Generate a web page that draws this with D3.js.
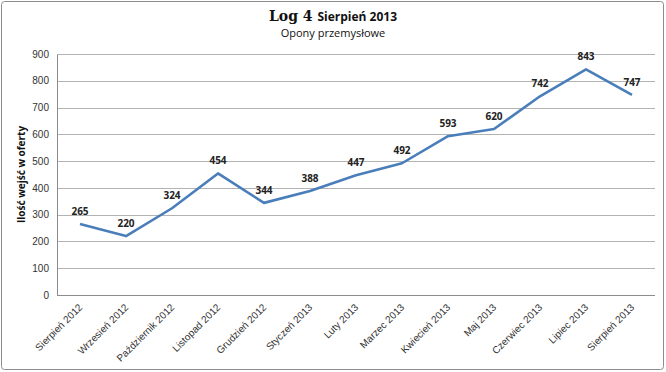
<!DOCTYPE html>
<html>
<head>
  <meta charset="utf-8">
  <title>Log 4 Sierpień 2013</title>
  <script src="https://d3js.org/d3.v7.min.js"></script>
  <style>
    body {
      margin: 0;
      background-color: #fff;
      font-family: "Open Sans", Arial, sans-serif;
    }
    .grid line {
      stroke: #b3b3b3;
      shape-rendering: crispEdges;
    }
    .axis text {
      font-size: 10px;
      fill: #333;
    }
    .axis path,
    .axis line {
      stroke: #8c8c8c;
      shape-rendering: crispEdges;
    }
  </style>
</head>
<body>
  <div id="chart"></div>

  <script>
    // data
    const months = ["Sierpień 2012", "Wrzesień 2012", "Październik 2012", "Listopad 2012",
      "Grudzień 2012", "Styczeń 2013", "Luty 2013", "Marzec 2013", "Kwiecień 2013",
      "Maj 2013", "Czerwiec 2013", "Lipiec 2013", "Sierpień 2013"];
    const visits = [265, 220, 324, 454, 344, 388, 447, 492, 593, 620, 742, 843, 747];
    const yTicks = [0, 100, 200, 300, 400, 500, 600, 700, 800, 900];

    const width = 666;
    const height = 372;
    const margin = { top: 54, right: 11, bottom: 77, left: 57 };

    const svg = d3.select("#chart")
      .append("svg")
      .attr("width", width)
      .attr("height", height);

    // outer frame
    svg.append("rect")
      .attr("x", 1.5).attr("y", 1.5)
      .attr("width", width - 4).attr("height", height - 4)
      .attr("rx", 3)
      .attr("fill", "#fff")
      .attr("stroke", "#8c8c8c");

    const x = d3.scaleBand()
      .domain(months)
      .range([margin.left, width - margin.right]);

    const y = d3.scaleLinear()
      .domain([0, 900])
      .range([height - margin.bottom, margin.top]);

    // gridlines
    svg.append("g")
      .attr("class", "grid")
      .selectAll("line")
      .data(yTicks.filter(d => d > 0))
      .join("line")
      .attr("x1", margin.left)
      .attr("x2", width - margin.right)
      .attr("y1", d => Math.round(y(d)) + 0.5)
      .attr("y2", d => Math.round(y(d)) + 0.5);

    // y axis
    const yAxis = svg.append("g")
      .attr("class", "axis")
      .attr("transform", `translate(${margin.left},0)`)
      .call(d3.axisLeft(y).tickValues(yTicks).tickSize(0).tickPadding(8));
    yAxis.selectAll("text").attr("font-size", 10);

    // x axis
    const xAxis = svg.append("g")
      .attr("class", "axis")
      .attr("transform", `translate(0,${height - margin.bottom})`)
      .call(d3.axisBottom(x).tickSize(0).tickPadding(0));
    xAxis.select(".domain").remove();
    xAxis.append("line")
      .attr("x1", margin.left).attr("x2", width - margin.right)
      .attr("stroke", "#8c8c8c")
      .attr("shape-rendering", "crispEdges");
    xAxis.selectAll(".tick text")
      .attr("dy", 0)
      .attr("transform", "translate(3,13) rotate(-45)")
      .style("text-anchor", "end")
      .attr("font-size", 9.5);

    // line
    const line = d3.line()
      .x((d, i) => x(months[i]) + x.bandwidth() / 2)
      .y(d => y(d));

    svg.append("path")
      .datum(visits)
      .attr("fill", "none")
      .attr("stroke", "#4a7ebb")
      .attr("stroke-width", 2.6)
      .attr("stroke-linejoin", "round")
      .attr("d", line);

    // data labels
    svg.append("g")
      .selectAll("text")
      .data(visits)
      .join("text")
      .attr("x", (d, i) => x(months[i]) + x.bandwidth() / 2)
      .attr("y", d => y(d) - 9)
      .attr("text-anchor", "middle")
      .attr("font-size", 10)
      .attr("font-weight", "bold")
      .attr("fill", "#222")
      .text(d => d);

    // title
    const title = svg.append("text")
      .attr("x", width / 2)
      .attr("y", 21)
      .attr("text-anchor", "middle")
      .attr("font-weight", "bold")
      .attr("fill", "#111");
    title.append("tspan")
      .attr("font-family", "'DejaVu Serif', serif")
      .attr("font-size", 14)
      .text("Log 4 ");
    title.append("tspan")
      .attr("font-size", 12)
      .text("Sierpień 2013");

    svg.append("text")
      .attr("x", width / 2)
      .attr("y", 37)
      .attr("text-anchor", "middle")
      .attr("font-size", 11)
      .attr("fill", "#111")
      .text("Opony przemysłowe");

    // y axis title
    svg.append("text")
      .attr("transform", `translate(25,${(y(0) + y(900)) / 2}) rotate(-90)`)
      .attr("text-anchor", "middle")
      .attr("font-size", 10)
      .attr("font-weight", "bold")
      .attr("fill", "#111")
      .text("Ilość wejść w oferty");
  </script>
</body>
</html>
